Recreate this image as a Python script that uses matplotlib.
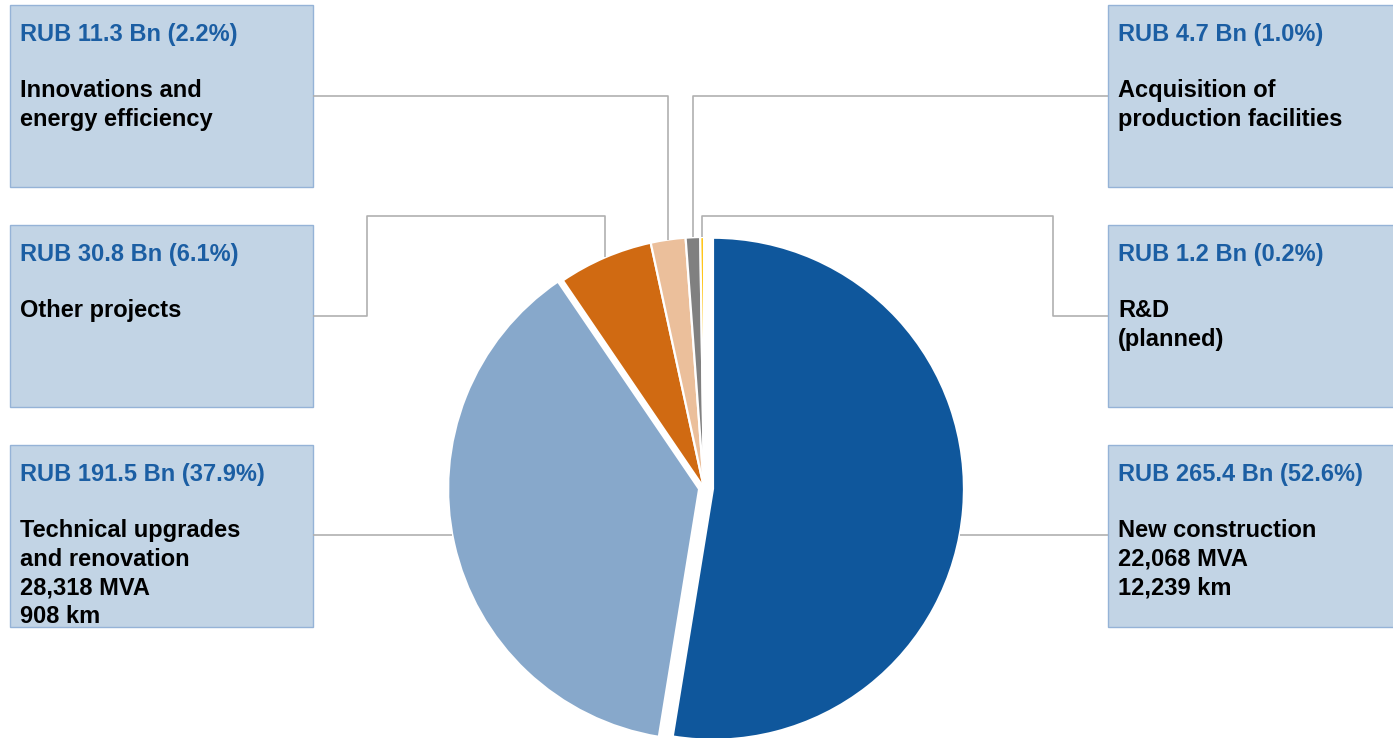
import numpy as np
import matplotlib
matplotlib.use("Agg")
import matplotlib.pyplot as plt
from matplotlib.patches import Rectangle

# Investment programme breakdown (RUB Bn), clockwise from 12 o'clock
categories = ["New construction", "Technical upgrades and renovation", "Other projects",
              "Innovations and energy efficiency", "Acquisition of production facilities",
              "R&D (planned)"]
values_bn = [265.4, 191.5, 30.8, 11.3, 4.7, 1.2]
shares_pct = [52.6, 37.9, 6.1, 2.2, 1.0, 0.2]
descriptions = [
    ["New construction", "22,068 MVA", "12,239 km"],
    ["Technical upgrades", "and renovation", "28,318 MVA", "908 km"],
    ["Other projects"],
    ["Innovations and", "energy efficiency"],
    ["Acquisition of", "production facilities"],
    ["R&D", "(planned)"],
]
colors = ["#0F579C", "#87A8CB", "#D06A12", "#EBBF9B", "#808080", "#FFC000"]

W, H = 1393, 738
fig = plt.figure(figsize=(W / 100, H / 100), dpi=100)
ax = fig.add_axes([0, 0, 1, 1])

cx, cy, R = 704, H - 488, 251
# wedge offsets in data units (pixels here)
explode = [9, 5, 0, 0, 0, 0]
ax.pie(values_bn, colors=colors, startangle=90, counterclock=False,
       center=(cx, cy), radius=R, explode=explode,
       wedgeprops=dict(edgecolor="white", linewidth=1.6, antialiased=True))
ax.set_xlim(0, W)
ax.set_ylim(0, H)
ax.set_aspect("equal")
ax.axis("off")

# mid-angle of each wedge (degrees, math convention)
fracs = np.array(values_bn) / np.sum(values_bn)
cum = np.concatenate([[0], np.cumsum(fracs)])
mid_deg = 90 - 360 * (cum[:-1] + cum[1:]) / 2

def wedge_center(i):
    a = np.deg2rad(mid_deg[i])
    return cx + explode[i] * np.cos(a), cy + explode[i] * np.sin(a)

def arc_point(i):
    a = np.deg2rad(mid_deg[i])
    wx, wy = wedge_center(i)
    return wx + R * np.cos(a), wy + R * np.sin(a)

# box layout: (left x, top y in pixels, width)
box_h = 182
boxes = {
    0: (1108, 445, 300),
    1: (10, 445, 303),
    2: (10, 225, 303),
    3: (10, 5, 303),
    4: (1108, 5, 300),
    5: (1108, 225, 300),
}

box_face = "#C2D4E5"
box_edge = "#95B3D7"
title_color = "#1B5EA3"
fs = 17
font = "Liberation Sans"

for i, (bx, by, bw) in boxes.items():
    ax.add_patch(Rectangle((bx, H - by - box_h), bw, box_h, facecolor=box_face,
                           edgecolor=box_edge, linewidth=1.0, zorder=1))
    tx = bx + 10
    ax.text(tx, H - (by + 29), f"RUB {values_bn[i]:.1f} Bn ({shares_pct[i]:.1f}%)",
            color=title_color, fontsize=fs, fontweight="bold", family=font,
            ha="left", va="center", zorder=3)
    for k, line in enumerate(descriptions[i]):
        ax.text(tx, H - (by + 85.5 + 28.6 * k), line, color="black", fontsize=fs,
                fontweight="bold", family=font, ha="left", va="center", zorder=3)

line_kw = dict(color="#B0B0B0", linewidth=1.2, solid_capstyle="butt", zorder=2)

def lead(xs, ys_px):
    ax.plot(xs, [H - y for y in ys_px], **line_kw)

# Innovations and energy efficiency
px, py = arc_point(3)
lead([313, px, px], [96, 96, H - py])
# Acquisition of production facilities
px, py = arc_point(4)
lead([1108, px, px], [96, 96, H - py])
# Other projects
px, py = arc_point(2)
lead([313, 367, 367, px, px], [316, 316, 216, 216, H - py])
# R&D
px, py = arc_point(5)
lead([1108, 1053, 1053, px, px], [316, 316, 216, 216, H - py])
# Technical upgrades (horizontal to pie edge)
yl = H - 535
c1x, c1y = wedge_center(1)
xl = c1x - np.sqrt(R**2 - (yl - c1y) ** 2)
ax.plot([313, xl], [yl, yl], **line_kw)
# New construction
c0x, c0y = wedge_center(0)
xr = c0x + np.sqrt(R**2 - (yl - c0y) ** 2)
ax.plot([xr, 1108], [yl, yl], **line_kw)

fig.savefig("out.png", dpi=100, facecolor="white")
